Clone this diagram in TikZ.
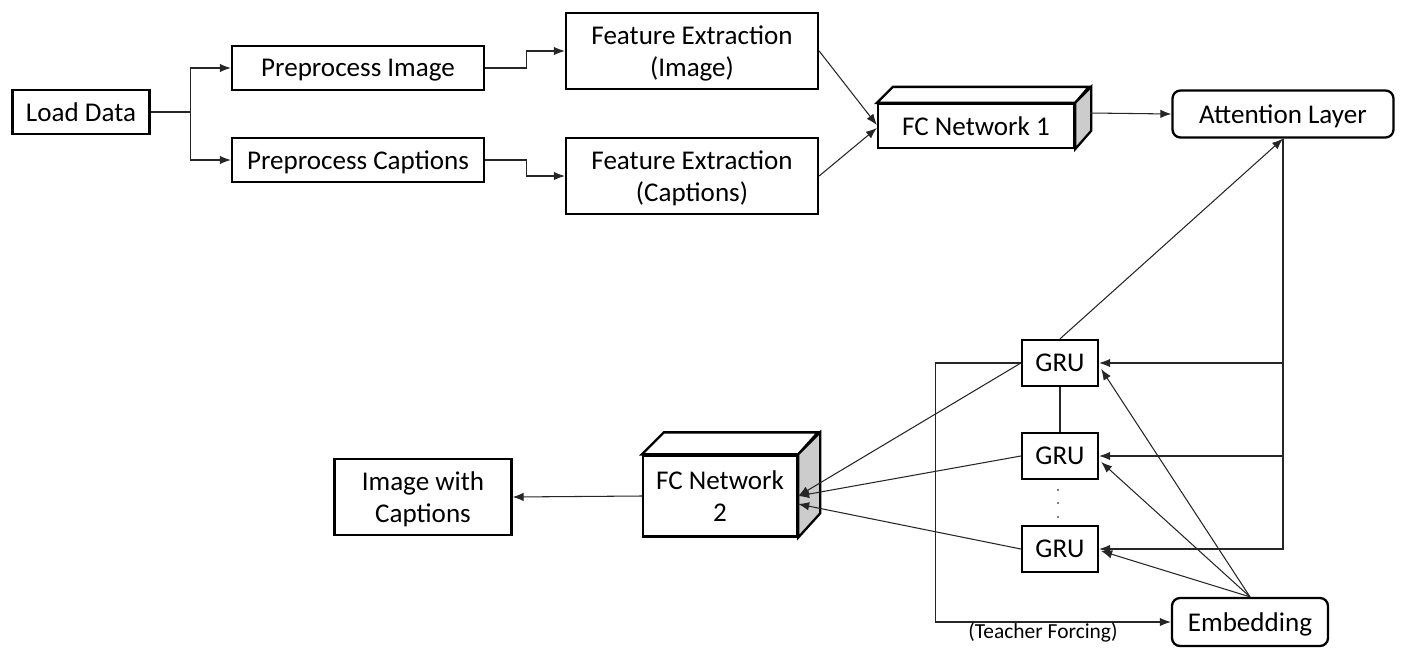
\documentclass[tikz,border=0pt]{standalone}
\usepackage{fontspec}
\setmainfont{Carlito}
\usetikzlibrary{arrows.meta}
\usetikzlibrary{calc}
\usetikzlibrary{positioning}

\begin{document}
\begin{tikzpicture}[x=0.2mm, y=-0.2mm,
    box/.style={draw, line width=1.3pt, inner sep=0pt, align=center, text depth=0pt,
      font=\fontsize{15.4}{18.5}\selectfont},
    rbox/.style={box, rounded corners=1.6mm},
    face/.style={draw, line width=1.3pt, line join=miter},
    link/.style={line width=0.6pt, draw=black!85},
    arrow/.style={link, -{Latex[length=2.2mm, width=1.7mm]}}]
  \path[use as bounding box] (0,0) rectangle (1407,663);

  \node[box, minimum width=27.4mm, minimum height=8.8mm] (load) at (81,112) {Load Data};
  \node[box, minimum width=50.4mm, minimum height=8.8mm] (prepimg) at (358,68) {Preprocess Image};
  \node[box, minimum width=50.4mm, minimum height=8.8mm] (prepcap) at (358,160) {Preprocess Captions};
  \node[box, minimum width=50.4mm, minimum height=15.2mm] (feimg) at (692,51) {Feature Extraction\\(Image)};
  \node[box, minimum width=50.4mm, minimum height=15.2mm] (fecap) at (692,176) {Feature Extraction\\(Captions)};

  \node[box, minimum width=39.2mm, minimum height=8.8mm] (fc1) at (976,126) {FC Network 1};
  \draw[face, fill=white] (fc1.north west) -- ++(16,-16) -- ++(196,0) -- (fc1.north east) -- cycle;
  \draw[face, fill=gray!40] (fc1.north east) -- ++(16,-16) -- ++(0,44) -- (fc1.south east) -- cycle;
  \coordinate (fc1side) at (1090,113);

  \node[rbox, minimum width=44.2mm, minimum height=9.4mm] (attn) at (1283,114) {Attention Layer};

  \node[box, minimum width=15.2mm, minimum height=9.2mm] (gru1) at (1060,363) {GRU};
  \node[box, minimum width=15.2mm, minimum height=9.2mm] (gru2) at (1060,456) {GRU};
  \node[box, minimum width=15.2mm, minimum height=9.2mm] (gru3) at (1060,549) {GRU};
  \foreach \y in {490,503,517}
    \fill (1058,\y) circle (0.55pt);

  \node[rbox, minimum width=31.2mm, minimum height=9.6mm] (emb) at (1250,622) {Embedding};

  \node[box, minimum width=30.8mm, minimum height=16.2mm] (fc2) at (720,496) {FC Network\\2};
  \draw[face, fill=white] (fc2.north west) -- ++(22,-22) -- ++(154,0) -- (fc2.north east) -- cycle;
  \draw[face, fill=gray!40] (fc2.north east) -- ++(22,-22) -- ++(0,81) -- (fc2.south east) -- cycle;

  \node[box, minimum width=35.4mm, minimum height=15.2mm] (imgcap) at (423,497) {Image with\\Captions};

  \draw[arrow] (load.east) -- ++(40,0) |- (prepimg.west);
  \draw[arrow] (load.east) -- ++(40,0) |- (prepcap.west);
  \draw[arrow] (prepimg.east) -- ++(41,0) |- (feimg.west);
  \draw[arrow] (prepcap.east) -- ++(41,0) |- (fecap.west);
  \draw[arrow] (feimg.east) -- ($(fc1.west)+(0,-1)$);
  \draw[arrow] (fecap.east) -- ($(fc1.west)+(0,2)$);
  \draw[arrow] (fc1side) -- (attn.west);

  \draw[arrow] (attn.south) |- (gru1.east);
  \draw[arrow] (attn.south) |- (gru2.east);
  \draw[arrow] (attn.south) |- (gru3.east);
  \draw[arrow] (gru1.north) -- (attn.south);
  \draw[link] (gru1) -- (gru2);

  \draw[arrow] (emb.north) -- ($(gru1.east)+(2,6)$);
  \draw[arrow] (emb.north) -- ($(gru2.east)+(2,6)$);
  \draw[arrow] (emb.north) -- ($(gru3.east)+(2,2)$);

  \draw[arrow] (gru1.west) -- (fc2.east);
  \draw[arrow] (gru2.west) -- (fc2.east);
  \draw[arrow] (gru3.west) -- ($(fc2.east)+(0,8)$);
  \draw[arrow] (fc2.west) -- (imgcap.east);

  \draw[arrow] (gru1.west) -- ++(-85,0) |- (emb.west);
  \node[font=\fontsize{12.2}{14}\selectfont, inner sep=0pt] (tf) at (1043,632) {(Teacher Forcing)};
\end{tikzpicture}
\end{document}
